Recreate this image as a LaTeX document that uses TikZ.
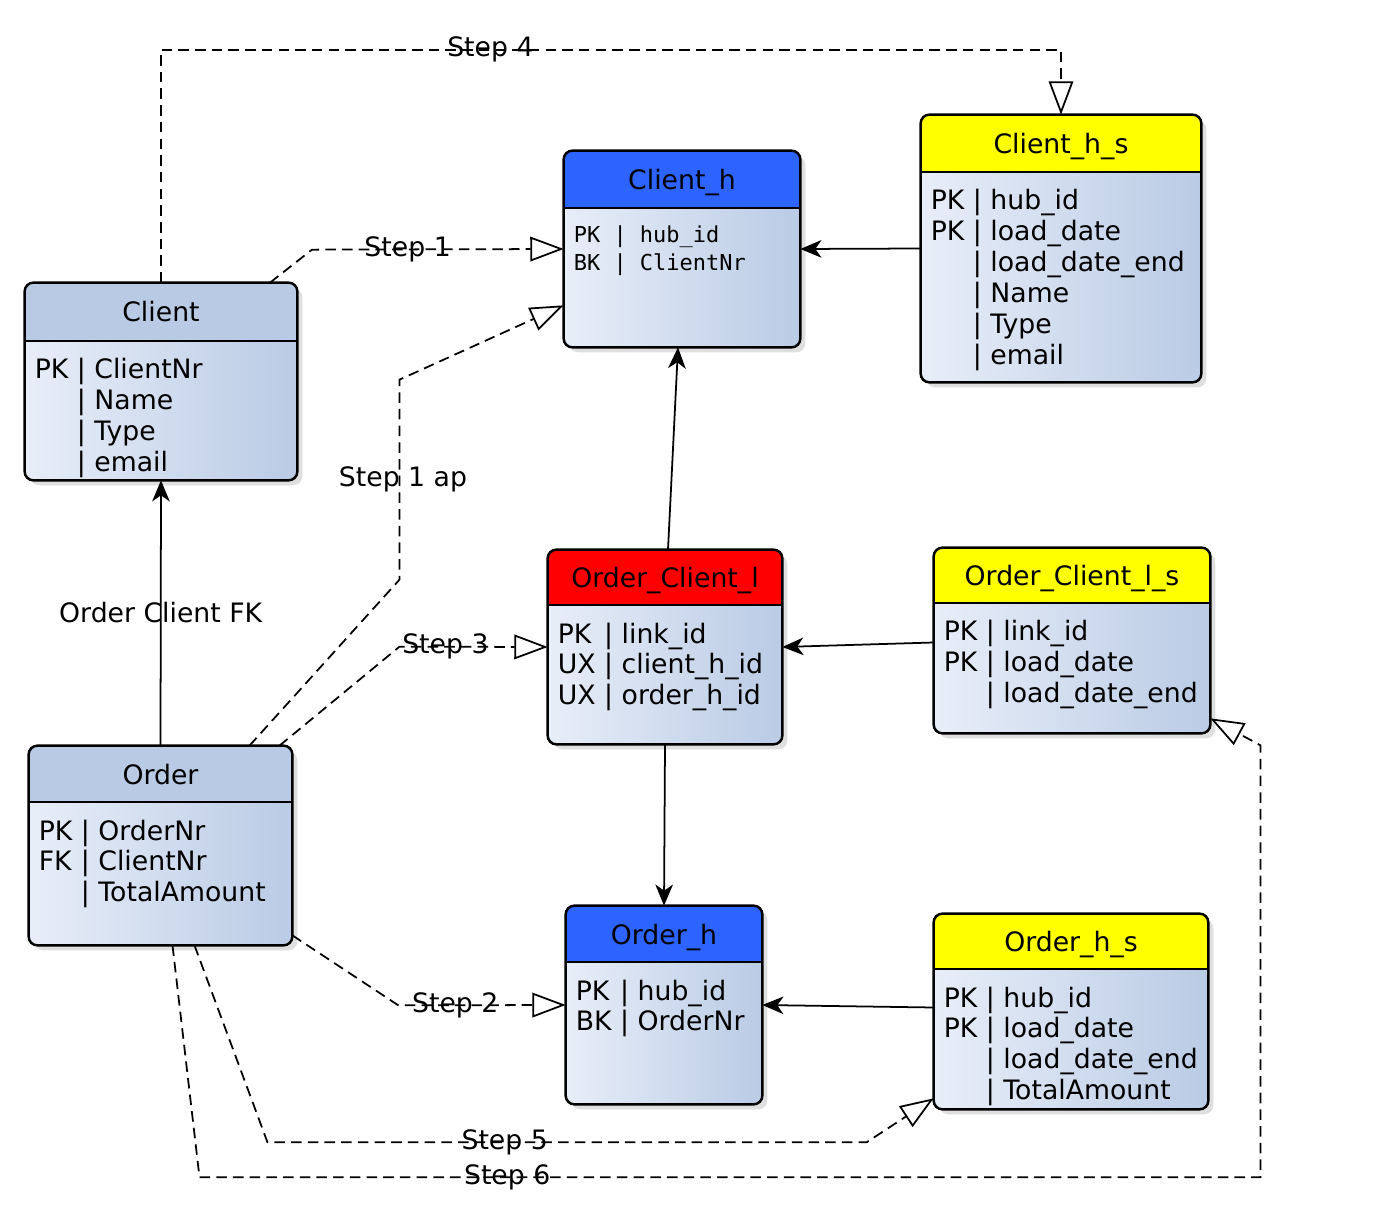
\documentclass[tikz,border=0pt]{standalone}
\usepackage{fontspec}
\setmainfont{DejaVu Sans}
\newfontfamily\monofont{DejaVu Sans Mono}
\usetikzlibrary{arrows.meta,calc,fit,shadows}

\definecolor{hdrgrey}{RGB}{184,202,228}
\definecolor{hdrblue}{RGB}{45,100,255}
\definecolor{hdrred}{RGB}{255,0,0}
\definecolor{hdryellow}{RGB}{255,255,0}
\definecolor{bodyL}{RGB}{232,238,248}
\definecolor{bodyR}{RGB}{186,203,229}

\tikzset{
  entbox/.style={inner sep=0pt, fill=white, rounded corners=5pt,
    drop shadow={shadow xshift=3pt, shadow yshift=-3pt, opacity=0.25}},
  entline/.style={line width=1.4pt, rounded corners=5pt},
  enttitle/.style={anchor=base, inner sep=0pt, font=\fontsize{15.2}{17.6}\selectfont},
  entrows/.style={anchor=base west, inner sep=0pt, font=\fontsize{15.2}{17.6}\selectfont},
  link/.style={line width=1pt, -{Stealth[length=12pt, width=10pt, inset=3.5pt]}},
  steplink/.style={line width=1pt, dash pattern=on 6pt off 3.5pt,
    -{Triangle[open, length=19pt, width=14pt, line width=1pt]}},
  steplbl/.style={inner sep=1pt, font=\fontsize{15.2}{17.6}\selectfont},
}

\newcommand{\rows}[1]{\begin{tabular}[t]{@{}l@{ }l@{}}#1\end{tabular}}

% #1 name, #2-#5 corners, #6 header line, #7 header colour, #8 title, #9 rows
\newcommand{\entity}[9]{%
  \node[entbox, fit={(#2,#3) (#4,#5)}] (#1) {};
  \begin{scope}
    \clip[rounded corners=5pt] (#2,#3) rectangle (#4,#5);
    \shade[left color=bodyL, right color=bodyR] (#2,#6) rectangle (#4,#5);
    \fill[#7] (#2,#3) rectangle (#4,#6);
  \end{scope}
  \draw[line width=1.4pt] (#2,#6) -- (#4,#6);
  \draw[entline] (#1.north west) rectangle (#1.south east);
  \node[enttitle] (#1-title) at ($(#2,#3)!0.5!(#4,#6)+(0,10)$) {#8};
  \node[entrows] (#1-rows) at ($(#2,#6)+(9.5,38)$) {#9};
}

\begin{document}
\begin{tikzpicture}[x=0.02cm, y=-0.02cm]
  \fill[white] (0,0) rectangle (1379,1222);
  \useasboundingbox (0,0) rectangle (1379,1222);

  % tables
  \entity{client}{25}{283}{297}{480}{341}{hdrgrey}{Client}
    {\rows{PK & | ClientNr\\ & | Name\\ & | Type\\ & | email}}
  \entity{clienth}{564}{151}{800}{347}{208}{hdrblue}{Client\_h}
    {\raisebox{3\dimexpr0.02cm}{\monofont\fontsize{12.5}{15.4}\selectfont\rows{PK & | hub\_id\\BK & | ClientNr}}}
  \entity{clienths}{921}{115}{1201}{382}{172}{hdryellow}{Client\_h\_s}
    {\rows{PK & | hub\_id\\PK & | load\_date\\ & | load\_date\_end\\ & | Name\\ & | Type\\ & | email}}
  \entity{ocl}{548}{550}{782}{744}{605}{hdrred}{Order\_Client\_l}
    {\rows{PK & | link\_id\\UX & | client\_h\_id\\UX & | order\_h\_id}}
  \entity{ocls}{934}{548}{1210}{733}{603}{hdryellow}{Order\_Client\_l\_s}
    {\rows{PK & | link\_id\\PK & | load\_date\\ & | load\_date\_end}}
  \entity{order}{29}{746}{292}{945}{802}{hdrgrey}{Order}
    {\rows{PK & | OrderNr\\FK & | ClientNr\\ & | TotalAmount}}
  \entity{orderh}{566}{906}{762}{1104}{962}{hdrblue}{Order\_h}
    {\rows{PK & | hub\_id\\BK & | OrderNr}}
  \entity{orderhs}{934}{914}{1208}{1109}{969}{hdryellow}{Order\_h\_s}
    {\rows{PK & | hub\_id\\PK & | load\_date\\ & | load\_date\_end\\ & | TotalAmount}}

  % solid links
  \draw[link] (order.north) -- node[steplbl] (fk) {Order Client FK} (client.south);
  \draw[link] ($(ocl.north)+(3,0)$) -- ($(clienth.south)+(-4,0)$);
  \draw[link] (ocl.south) -- (orderh.north);
  \draw[link] (clienths.west) -- (clienth.east);
  \draw[link] ($(ocls.west)+(0,2)$) -- (ocl.east);
  \draw[link] ($(orderhs.west)+(0,-4)$) -- (orderh.east);

  % load steps
  \draw[steplink] (client.north) -- ++(0,-233) -| node[steplbl, pos=0.183] (step4) {Step 4} (clienths.north);
  \draw[steplink] ($(client.north)+(109,0)$) -- ++(42,-33) -- node[steplbl, pos=0.38] (step1) {Step 1} (clienth.west);
  \draw[steplink] ($(order.north)+(89,0)$) -- ++(150,-166) -- node[steplbl, pos=0.5, xshift=2] (step1ap) {Step 1 ap} ++(0,-200)
    -- ($(clienth.south west)+(0,-42)$);
  \draw[steplink] ($(order.north)+(119,0)$) -- ++(120,-99) -- node[steplbl, pos=0.31] (step3) {Step 3} (ocl.west);
  \draw[steplink] ($(order.south east)+(0,-10)$) -- ++(106,70) -- node[steplbl, pos=0.34] (step2) {Step 2} (orderh.west);
  \draw[steplink] ($(order.south)+(34,0)$) -- ++(73,197) -- node[steplbl, pos=0.396] (step5) {Step 5} ++(599,0)
    -- ($(orderhs.south west)+(0,-11)$);
  \draw[steplink] ($(order.south)+(12,0)$) -- ++(27,232) -- node[steplbl, pos=0.29] (step6) {Step 6} ++(1061,0)
    -- ++(0,-432) -- ($(ocls.south east)+(0,-15)$);
\end{tikzpicture}
\end{document}
